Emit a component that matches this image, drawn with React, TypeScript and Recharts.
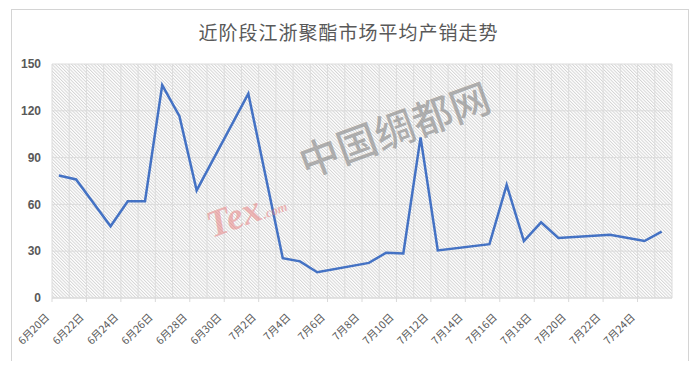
import { LineChart, Line, XAxis, YAxis, CartesianGrid } from "recharts";

const TITLE = "近阶段江浙聚酯市场平均产销走势";

// trading days shown on the chart
const dates = [
  "6月20日", "6月21日", "6月23日", "6月24日", "6月25日", "6月26日", "6月27日", "6月28日",
  "7月1日", "7月3日", "7月4日", "7月5日", "7月8日", "7月9日", "7月10日", "7月11日",
  "7月12日", "7月15日", "7月16日", "7月17日", "7月18日", "7月19日", "7月22日", "7月24日", "7月25日",
];
const avgSales = [
  78.5, 76, 46, 62, 62, 136.5, 116.5, 69,
  131, 25.5, 23.5, 16.5, 22.5, 29, 28.5, 103,
  30.5, 34.5, 72.5, 36.5, 48.5, 38.5, 40.5, 36.5, 42.5,
];
const yTicks = [0, 30, 60, 90, 120, 150];
const TOTAL_DAYS = 36; // 6/20 .. 7/25
const SLOT = 0.4; // point sits inside the day slot (Excel date axis)

const dayIndex = (label: string) => {
  const m = label.match(/(\d+)月(\d+)日/);
  if (!m) return 0;
  const month = Number(m[1]);
  const day = Number(m[2]);
  return month === 6 ? day - 20 : 10 + day; // June has 30 days
};
const dayLabel = (i: number) => (i <= 10 ? `6月${20 + i}日` : `7月${i - 10}日`);

const data = dates.map((d, i) => ({ x: dayIndex(d), value: avgSales[i] }));
const xTicks = Array.from({ length: TOTAL_DAYS }, (_, i) => i - SLOT);

const DateTick = (props: any) => {
  const { x, y, payload } = props;
  const idx = Math.round(payload.value + SLOT);
  if (idx % 2 !== 0) return null;
  return (
    <g>
      <line x1={x} y1={y} x2={x} y2={y + 4} stroke="#d9d9d9" />
      <g transform={`translate(${x - 2},${y + 20})`}>
        <text
          x={0}
          y={0}
          textAnchor="end"
          transform="rotate(-45)"
          fontSize={10.5}
          fill="#595959"
          fontFamily="'Noto Sans CJK SC', 'Noto Sans', sans-serif"
        >
          {dayLabel(idx)}
        </text>
      </g>
    </g>
  );
};

export default function App() {
  return (
    <div style={{ position: "relative", width: 697, height: 369, margin: -8, background: "#fff" }}>
      <div
        style={{
          position: "absolute",
          left: 11,
          top: 9,
          width: 676,
          height: 355,
          border: "1px solid #d4d4d4",
        }}
      />
      <div
        style={{
          position: "absolute",
          left: 0,
          top: 18,
          width: 697,
          textAlign: "center",
          fontSize: 19,
          color: "#595959",
          fontFamily: "'Noto Sans CJK SC', sans-serif",
          letterSpacing: 1,
        }}
      >
        {TITLE}
      </div>
      <div style={{ position: "absolute", left: 0, top: 0 }}>
        <LineChart
          width={697}
          height={369}
          data={data}
          margin={{ top: 64, right: 25, bottom: 0, left: 12 }}
        >
          <defs>
            <pattern id="hatch" width="2.3" height="2.3" patternUnits="userSpaceOnUse" patternTransform="rotate(-45)">
              <rect width="2.3" height="2.3" fill="#ffffff" />
              <line x1="0.5" y1="0" x2="0.5" y2="2.3" stroke="#d2d2d2" strokeWidth="0.9" />
            </pattern>
          </defs>
          <CartesianGrid stroke="#dcdcdc" fill="url(#hatch)" fillOpacity={1} />
          <XAxis
            dataKey="x"
            type="number"
            domain={[-SLOT, TOTAL_DAYS - SLOT]}
            ticks={xTicks}
            interval={0}
            tick={<DateTick />}
            tickLine={false}
            tickSize={0}
            tickMargin={0}
            axisLine={{ stroke: "#d9d9d9" }}
            height={71}
            allowDataOverflow
          />
          <YAxis
            domain={[0, 150]}
            ticks={yTicks}
            width={40}
            axisLine={false}
            tickLine={false}
            tickMargin={5}
            tick={{ fontSize: 12, fill: "#595959", fontWeight: "bold", fontFamily: "'Liberation Sans', sans-serif" }}
          />
          <Line
            type="linear"
            dataKey="value"
            stroke="#4472C4"
            strokeWidth={2.5}
            dot={false}
            isAnimationActive={false}
          />
        </LineChart>
      </div>
      {/* watermark */}
      <div
        style={{
          position: "absolute",
          left: 290,
          top: 135,
          fontSize: 40,
          fontWeight: 500,
          color: "rgba(130,130,130,0.6)",
          fontFamily: "'Noto Sans CJK SC', sans-serif",
          transform: "rotate(-20deg)",
          transformOrigin: "left top",
          whiteSpace: "nowrap",
          pointerEvents: "none",
        }}
      >
        中国绸都网
      </div>
      <div
        style={{
          position: "absolute",
          left: 200,
          top: 205,
          fontSize: 38,
          fontStyle: "italic",
          fontWeight: "bold",
          color: "rgba(230,120,120,0.5)",
          fontFamily: "'Liberation Serif', serif",
          transform: "rotate(-20deg)",
          transformOrigin: "left top",
          whiteSpace: "nowrap",
          pointerEvents: "none",
        }}
      >
        Tex<span style={{ fontSize: 13 }}>.com</span>
      </div>
    </div>
  );
}
